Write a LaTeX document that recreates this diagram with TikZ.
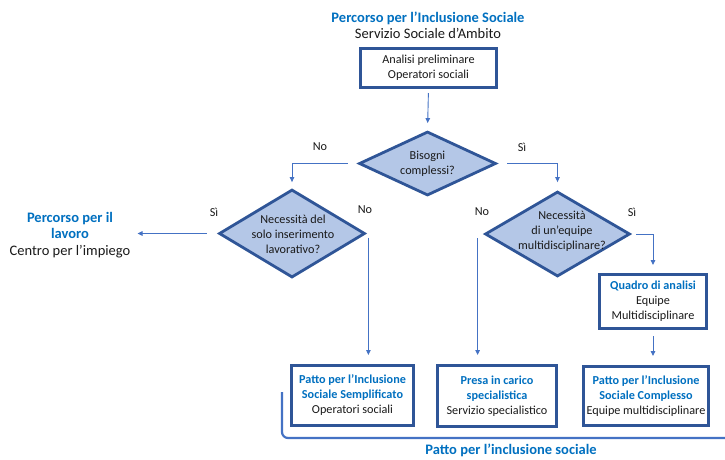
\documentclass[tikz,border=0pt]{standalone}
\usepackage{fontspec}
\setmainfont{Carlito}
\usetikzlibrary{shapes.geometric,arrows.meta}
\definecolor{titleblue}{HTML}{0070C0}
\definecolor{boxedge}{HTML}{2F5597}
\definecolor{diafill}{HTML}{B4C7E7}
\definecolor{linkblue}{HTML}{4472C4}
\definecolor{bodytext}{HTML}{1A1A1A}
\newcommand{\hl}[1]{\textbf{\textcolor{titleblue}{#1}}}

\begin{document}
\begin{tikzpicture}[x=1pt,y=-1pt,
  txt/.style={font=\fontsize{12.2}{15}\selectfont, text=bodytext, align=center, inner sep=0pt},
  bigtxt/.style={font=\fontsize{14.5}{16.5}\selectfont, text=bodytext, align=center, inner sep=0pt},
  procbox/.style={rectangle, draw=boxedge, line width=3pt, fill=white, inner sep=0pt, txt},
  decision/.style={diamond, draw=boxedge, line width=2.8pt, fill=diafill, inner sep=0pt},
  link/.style={draw=linkblue, line width=0.9pt, -{Triangle[length=5pt,width=4.5pt]}},
  ans/.style={txt}
]
\fill[white] (0,0) rectangle (725,459);
\useasboundingbox (0,0) rectangle (725,459);

% heading of the whole path
\node[bigtxt] (title) at (428,25.5) {\hl{Percorso per l’Inclusione Sociale}\\Servizio Sociale d’Ambito};

% first step
\node[procbox, minimum width=136, minimum height=39] (analisi) at (428.5,68)
  {Analisi preliminare\\Operatori sociali};

% decisions
\node[decision, minimum width=137, minimum height=64] (d1) at (427.5,163.5) {};
\node[txt] (d1t) at (427.5,164) {Bisogni\\complessi?};

\node[decision, minimum width=146, minimum height=88] (d2) at (292,233.5) {};
\node[txt] (d2t) at (293,234.5) {Necessità del\\solo inserimento\\lavorativo?};

\node[decision, minimum width=145, minimum height=85] (d3) at (557.5,234) {};
\node[txt] (d3t) at (562,231.5) {Necessità\\di un’equipe\\multidisciplinare?};

% outcomes
\node[bigtxt] (lav) at (70,235) {\hl{Percorso per il}\\\hl{lavoro}\\Centro per l’impiego};

\node[procbox, minimum width=122, minimum height=60] (ps) at (352.5,395.5)
  {\hl{Patto per l’Inclusione}\\\hl{Sociale Semplificato}\\Operatori sociali};

\node[procbox, minimum width=119, minimum height=61] (pc) at (497,396)
  {\hl{Presa in carico}\\\hl{specialistica}\\Servizio specialistico};

\node[procbox, minimum width=107, minimum height=54] (qa) at (653,301.5)
  {\hl{Quadro di analisi}\\Equipe\\Multidisciplinare};

\node[procbox, minimum width=125, minimum height=59] (px) at (646,396)
  {\hl{Patto per l’Inclusione}\\\hl{Sociale Complesso}\\Equipe multidisciplinare};

% answer labels
\node[ans] (n1) at (320,147) {No};
\node[ans] (s1) at (522,147) {Sì};
\node[ans] (s2) at (214,212) {Sì};
\node[ans] (n2) at (365,210) {No};
\node[ans] (n3) at (482,212) {No};
\node[ans] (s3) at (632,212) {Sì};

% connectors
\draw[link, shorten <=4pt, shorten >=7pt] (analisi.south) -- (d1.north);
\draw[link, shorten <=10pt, shorten >=6pt] (d1.west) -| (d2.north);
\draw[link, shorten <=10pt, shorten >=8pt] (d1.east) -| (d3.north);
\draw[link, shorten <=11pt, shorten >=7pt] (d2.west) -- (d2.west -| lav.east);
\draw[link, shorten <=4pt, shorten >=9pt] ([xshift=2pt]d2.east) -- ([xshift=2pt]d2.east |- ps.north);
\draw[link, shorten <=4pt, shorten >=9pt] ([xshift=-6pt]d3.west) -- ([xshift=-6pt]d3.west |- pc.north);
\draw[link, shorten <=5pt, shorten >=8pt] (d3.east) -| (qa.north);
\draw[link, shorten <=6pt, shorten >=9pt] (qa.south) -- (qa.south |- px.north);

% bracket grouping the three agreements
\coordinate (brtop) at (282,392);
\coordinate (brend) at (725,438);
\draw[linkblue, line width=2.2pt, rounded corners=6pt] (brtop) |- (brend);
\node[bigtxt] (patto) at (511,450.5) {\hl{Patto per l’inclusione sociale}};

\end{tikzpicture}
\end{document}
